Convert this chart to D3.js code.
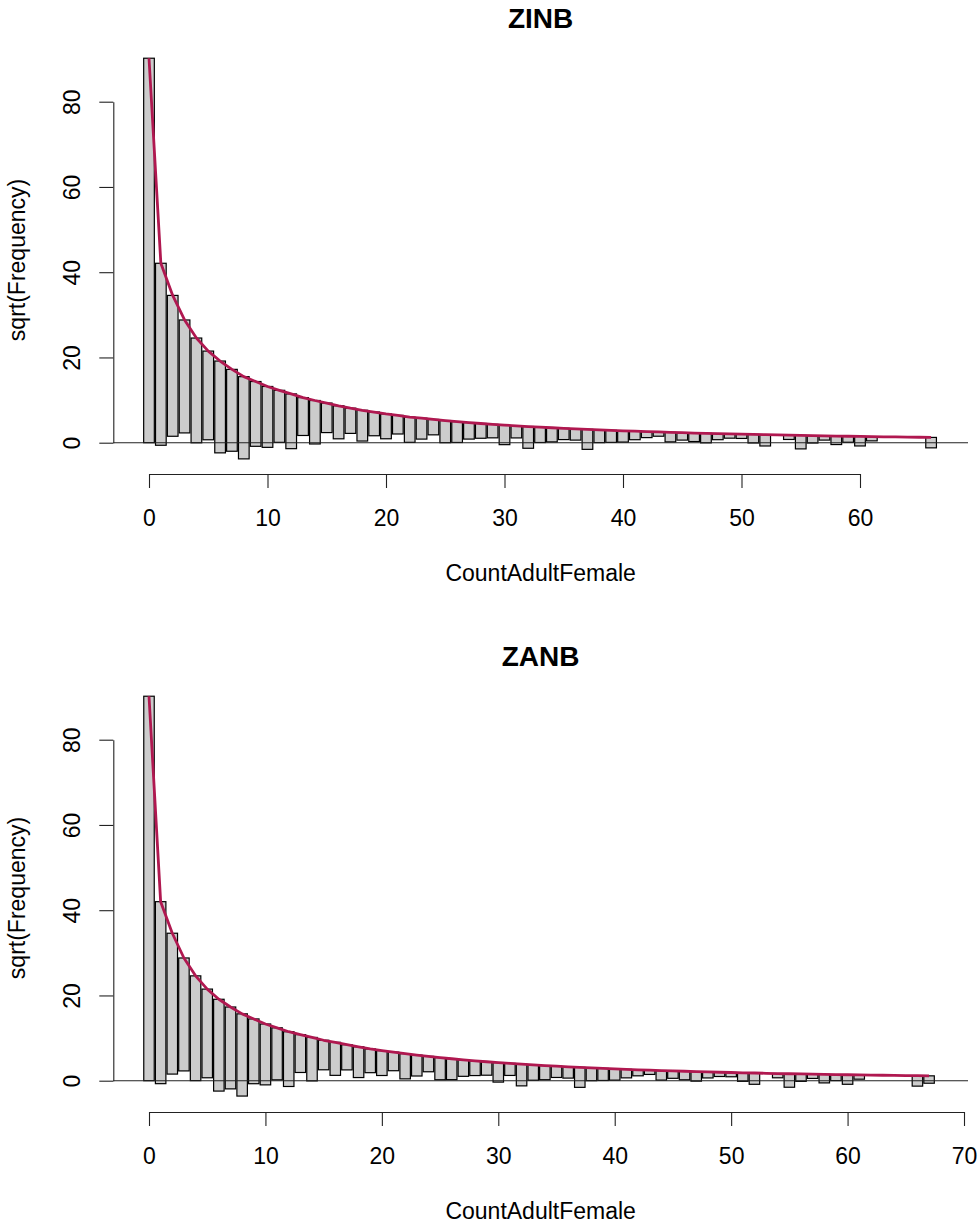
<!DOCTYPE html>
<html>
<head>
<meta charset="utf-8">
<script src="https://cdn.jsdelivr.net/npm/d3@7"></script>
<style>
  html, body { margin: 0; padding: 0; background: #fff; }
  svg { display: block; }
  text { font-family: "Liberation Sans", Arial, Helvetica, sans-serif; fill: #000; }
</style>
</head>
<body>
<svg id="chart" width="980" height="1226"></svg>
<script>
// Observed frequencies of CountAdultFemale = 0, 1, 2, ... 67
const observedFreq = [
  8136, 1823, 1092, 702, 604, 433, 464, 369, 372, 231,
  204, 149, 165, 79, 104, 48, 60, 35, 52, 31,
  34, 19, 35, 24, 13, 27, 24, 15, 12, 10,
  21, 8, 26, 13, 11, 7, 7, 22, 9, 8,
  7, 4, 2, 1, 5, 3, 4, 5, 2, 1,
  1, 4, 7, 0, 1, 10, 3, 1, 4, 2,
  5, 1, 0, 0, 0, 0, 6, 3
];

// Expected frequencies under the zero-inflated negative binomial fit (counts 0..66)
const expectedZINB = [
  8136, 1772, 1194, 829, 603, 462, 367, 296, 240, 206,
  174, 151, 131, 112, 98, 86.5, 75, 65.6, 57.8, 51.8,
  45.6, 41, 36, 33, 29.7, 27, 24.5, 22.3, 20.3, 18.5,
  17, 15.6, 14.4, 13.3, 12.3, 11.4, 10.6, 9.8, 9.1, 8.4,
  7.8, 7.3, 6.8, 6.35, 5.9, 5.5, 5.15, 4.84, 4.5, 4.25,
  4.0, 3.75, 3.52, 3.3, 3.1, 2.92, 2.75, 2.6, 2.45, 2.3,
  2.17, 2.05, 1.93, 1.82, 1.72, 1.63, 1.54
];

// Expected frequencies under the zero-altered (hurdle) negative binomial fit (counts 0..67)
const expectedZANB = [
  8136, 1764, 1197, 829, 605, 462, 365, 299, 246, 210,
  177, 154, 132, 117, 103, 90, 81, 71.4, 63.2, 55.5,
  49.7, 44.9, 40.3, 36, 32.5, 29.4, 26.5, 24, 21.8, 19.8,
  18.1, 16.5, 15.1, 13.8, 12.6, 11.6, 10.6, 9.8, 9.0, 8.3,
  7.7, 7.1, 6.55, 6.1, 5.65, 5.25, 4.9, 4.55, 4.25, 3.95,
  3.7, 3.45, 3.25, 3.03, 2.83, 2.65, 2.5, 2.35, 2.2, 2.07,
  1.95, 1.84, 1.74, 1.64, 1.55, 1.46, 1.38, 1.3
];

const yTickValues = [0, 20, 40, 60, 80];
const xTicksZINB = [0, 10, 20, 30, 40, 50, 60];
const xTicksZANB = [0, 10, 20, 30, 40, 50, 60, 70];
const panelTitles = ["ZINB", "ZANB"];
const xLabel = "CountAdultFemale";
const yLabel = "sqrt(Frequency)";

const svg = d3.select("#chart");

const panels = [
  { title: panelTitles[0], expected: expectedZINB, xTicks: xTicksZINB,
    xRange: [149, 860], top: 0 },
  { title: panelTitles[1], expected: expectedZANB, xTicks: xTicksZANB,
    xRange: [149, 964], top: 638 }
];

const plotLeft = 113.3, plotRight = 968;
const barWidth = 0.9;
const lineColor = "#B01850";

panels.forEach(p => {
  const g = svg.append("g").attr("transform", `translate(0,${p.top})`);

  const x = d3.scaleLinear()
    .domain([p.xTicks[0], p.xTicks[p.xTicks.length - 1]])
    .range(p.xRange);
  const y = d3.scaleLinear().domain([0, 80]).range([442.7, 101.7]);

  // hanging bars: each bar hangs from sqrt(expected) down by sqrt(observed)
  const rows = p.expected.map((e, i) => {
    const topV = Math.sqrt(e);
    const botV = topV - Math.sqrt(observedFreq[i]);
    return { k: i, top: topV, bottom: botV };
  });

  g.append("g").selectAll("rect")
    .data(rows.filter(d => d.top - d.bottom > 0))
    .join("rect")
    .attr("x", d => x(d.k - barWidth / 2))
    .attr("width", d => x(d.k + barWidth / 2) - x(d.k - barWidth / 2))
    .attr("y", d => y(d.top))
    .attr("height", d => y(d.bottom) - y(d.top))
    .attr("fill", "#CCCCCC")
    .attr("stroke", "#000")
    .attr("stroke-width", 1.2);

  // reference line at zero
  g.append("line")
    .attr("x1", plotLeft).attr("x2", plotRight)
    .attr("y1", y(0)).attr("y2", y(0))
    .attr("stroke", "#222").attr("stroke-width", 1.1);

  // fitted curve
  g.append("path")
    .datum(rows)
    .attr("fill", "none")
    .attr("stroke", lineColor)
    .attr("stroke-width", 2.8)
    .attr("stroke-linejoin", "round")
    .attr("d", d3.line().x(d => x(d.k)).y(d => y(d.top)));

  // y axis with labels parallel to the axis
  const yAxis = g.append("g")
    .attr("transform", `translate(${plotLeft},0)`)
    .call(d3.axisLeft(y).tickValues(yTickValues).tickSize(14).tickSizeOuter(0));
  yAxis.select(".domain").attr("stroke", "#222").attr("stroke-width", 1.1);
  yAxis.selectAll(".tick line").attr("stroke", "#222").attr("stroke-width", 1.1);
  yAxis.selectAll(".tick text")
    .attr("x", null)
    .attr("dy", "0.36em")
    .attr("text-anchor", "middle")
    .attr("transform", "translate(-41.6,0) rotate(-90)")
    .style("font-size", "23px")
    .style("font-family", '"Liberation Sans", Arial, sans-serif')
    .attr("fill", "#000");

  // x axis below the plot
  const xAxis = g.append("g")
    .attr("transform", "translate(0,474)")
    .call(d3.axisBottom(x).tickValues(p.xTicks).tickSize(14).tickSizeOuter(0));
  xAxis.select(".domain").attr("stroke", "#222").attr("stroke-width", 1.1);
  xAxis.selectAll(".tick line").attr("stroke", "#222").attr("stroke-width", 1.1);
  xAxis.selectAll(".tick text")
    .attr("y", 44)
    .attr("dy", "0.36em")
    .style("font-size", "23px")
    .style("font-family", '"Liberation Sans", Arial, sans-serif')
    .attr("fill", "#000");

  const midX = (plotLeft + plotRight) / 2;

  // panel title
  g.append("text")
    .attr("x", midX).attr("y", 18).attr("dy", "0.36em")
    .attr("text-anchor", "middle")
    .style("font-size", "28px").style("font-weight", "bold")
    .text(p.title);

  // axis titles
  g.append("text")
    .attr("x", midX).attr("y", 573).attr("dy", "0.36em")
    .attr("text-anchor", "middle")
    .style("font-size", "23px")
    .text(xLabel);

  g.append("text")
    .attr("transform", "translate(17,260) rotate(-90)")
    .attr("dy", "0.36em")
    .attr("text-anchor", "middle")
    .style("font-size", "23px")
    .text(yLabel);
});
</script>
</body>
</html>
